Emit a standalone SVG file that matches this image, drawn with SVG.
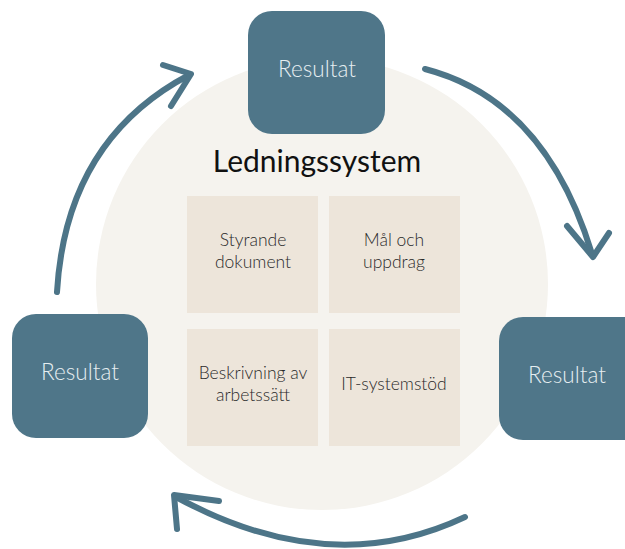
<svg xmlns="http://www.w3.org/2000/svg" width="625" height="549" viewBox="0 0 625 549">
<defs>
<style>
.res{fill:#4f7689}
.res-t{font-family:Lato,"Open Sans",sans-serif;font-weight:300;font-size:22.5px;fill:#e6eef1;text-anchor:middle}
.cell{fill:#ede5da}
.cell-t{font-family:Lato,"Open Sans",sans-serif;font-weight:300;font-size:17.5px;fill:#2a2a2a;text-anchor:middle}
.arc{fill:none;stroke:#4d7588;stroke-width:6;stroke-linecap:round;stroke-linejoin:round}
</style>
</defs>
<rect width="625" height="549" fill="#ffffff"/>
<circle id="bg-circle" cx="322" cy="284" r="226" fill="#f5f3ee"/>
<g id="connectors">
<path class="arc" d="M425,69 Q545,100 592,254"/>
<polyline class="arc" points="567,226 593,257 609,233"/>
<path class="arc" d="M465,517 Q330,581 176,497"/>
<polyline class="arc" points="219,501 174,495 177,529"/>
<path class="arc" d="M57,292 Q66,140 189,75"/>
<polyline class="arc" points="163,65 191,74 171,106"/>
</g>
<g id="title">
<text x="317" y="172" font-family="Lato,'Open Sans',sans-serif" font-size="30" fill="#111111" text-anchor="middle">Ledningssystem</text>
</g>
<g id="node-top">
<rect class="res" x="248" y="11" width="137" height="123" rx="24"/>
<text class="res-t" x="317" y="77">Resultat</text>
</g>
<g id="node-left">
<rect class="res" x="12" y="314" width="136" height="124" rx="24"/>
<text class="res-t" x="80" y="380">Resultat</text>
</g>
<g id="node-right">
<rect class="res" x="499" y="317" width="150" height="123" rx="24"/>
<text class="res-t" x="567" y="383">Resultat</text>
</g>
<g id="cell-styrande">
<rect class="cell" x="187" y="196" width="131" height="117"/>
<text class="cell-t" x="253" y="246">Styrande</text>
<text class="cell-t" x="253" y="268">dokument</text>
</g>
<g id="cell-mal">
<rect class="cell" x="329" y="196" width="131" height="117"/>
<text class="cell-t" x="394" y="246">Mål och</text>
<text class="cell-t" x="394" y="268">uppdrag</text>
</g>
<g id="cell-beskrivning">
<rect class="cell" x="187" y="329" width="131" height="117"/>
<text class="cell-t" x="253" y="379">Beskrivning av</text>
<text class="cell-t" x="253" y="401">arbetssätt</text>
</g>
<g id="cell-it">
<rect class="cell" x="329" y="329" width="131" height="117"/>
<text class="cell-t" x="394" y="390">IT-systemstöd</text>
</g>
</svg>
